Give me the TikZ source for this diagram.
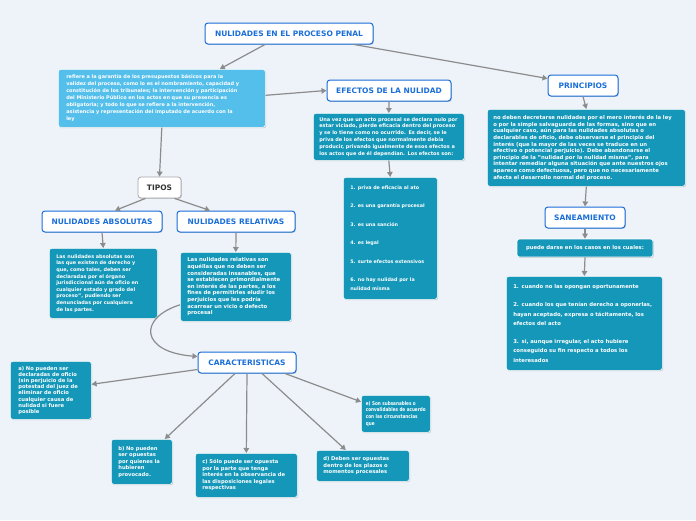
\documentclass[tikz,border=0pt]{standalone}
\usepackage{fontspec}
\usepackage{graphicx}
\setmainfont{DejaVu Sans}
\usetikzlibrary{arrows.meta,shadows}
\definecolor{bg}{HTML}{EEF2F9}
\definecolor{ttl}{HTML}{1A6ED8}
\definecolor{lb}{HTML}{55BFEB}
\definecolor{tl}{HTML}{1497B8}
\definecolor{ar}{HTML}{8C8C8C}
\tikzset{
  shd/.style={drop shadow={shadow xshift=0.8pt,shadow yshift=-0.9pt,opacity=0.3,fill=black!60}},
  ttlbox/.style={draw=ttl,line width=1pt,fill=white,rounded corners=3pt,shd,
    font=\fontsize{7.5}{8}\selectfont\bfseries,text=ttl,inner xsep=4pt,minimum height=21pt},
  tipbox/.style={ttlbox,draw=black!35,text=black!80,line width=0.8pt},
  tbox/.style={fill=tl,draw=white,line width=0.6pt,rounded corners=2.5pt,shd,text=white,
    font=\fontsize{4.9}{6.6}\selectfont\bfseries,align=left,anchor=north west,
    inner xsep=7pt,inner ysep=3pt},
  cbox/.style={tbox,font=\fontsize{5.2}{6.5}\selectfont\bfseries},
  lbox/.style={tbox,fill=lb,font=\fontsize{4.95}{7}\selectfont\bfseries},
  arr/.style={draw=ar,line width=1.2pt,-{Triangle[width=5.5pt,length=5pt]}},
}
\begin{document}
\begin{tikzpicture}[x=1pt,y=-1pt]
\fill[bg] (0,0) rectangle (696,520);
\useasboundingbox (0,0) rectangle (696,520);

% title nodes
\node[ttlbox,minimum width=168pt] (title) at (289,33.5) {NULIDADES EN EL PROCESO PENAL};
\node[ttlbox,minimum width=124pt] (efe) at (389,90.5) {EFECTOS DE LA NULIDAD};
\node[ttlbox,minimum width=70pt] (princ) at (583,85.5) {PRINCIPIOS};
\node[ttlbox,minimum width=80pt] (san) at (585,217.5) {SANEAMIENTO};
\node[tipbox,minimum width=43pt] (tipos) at (159.5,187.5) {TIPOS};
\node[ttlbox,minimum width=120pt] (abs) at (102,221.5) {NULIDADES ABSOLUTAS};
\node[ttlbox,minimum width=118pt] (rel) at (236,221.5) {NULIDADES RELATIVAS};
\node[ttlbox,minimum width=98pt] (car) at (247,362.5) {CARACTERISTICAS};

% text boxes
\node[lbox,inner xsep=8pt,text width=191pt,minimum height=58pt] (lbx) at (58,69)
{refiere a la garantía de los presupuestos básicos para la\\
validez del proceso, como lo es el nombramiento, capacidad y\\
constitución de los tribunales; la intervención y participación\\
del Ministerio Público en los actos en que su presencia es\\
obligatoria; y todo lo que se refiere a la intervención,\\
asistencia y representación del imputado de acuerdo con la\\
ley};

\node[tbox,font=\fontsize{5}{6.8}\selectfont\bfseries,text width=139pt,inner xsep=6pt,minimum height=47pt] (efet) at (313,113)
{Una vez que un acto procesal se declara nulo por\\
estar viciado, pierde eficacia dentro del proceso\\
y se lo tiene como no ocurrido. Es decir, se le\\
priva de los efectos que normalmente debía\\
producir, privando igualmente de esos efectos a\\
los actos que de él dependían. Los efectos son:};

\node[tbox,font=\fontsize{4.8}{9.2}\selectfont\bfseries,text width=80pt,minimum height=122pt] (efel) at (343,177)
{1. priva de eficacia al ato\\[9.2pt]
2. es una garantía procesal\\[9.2pt]
3. es una sanción\\[9.2pt]
4. es legal\\[9.2pt]
5. surte efectos extensivos\\[9.2pt]
6. no hay nulidad por la\\
nulidad misma};

\node[tbox,font=\fontsize{5.3}{6.6}\selectfont\bfseries,inner xsep=6pt,text width=186pt,minimum height=77pt] (prt) at (487,109)
{no deben decretarse nulidades por el mero interés de la ley\\
o por la simple salvaguarda de las formas, sino que en\\
cualquier caso, aún para las nulidades absolutas o\\
declarables de oficio, debe observarse el principio del\\
interés (que la mayor de las veces se traduce en un\\
efectivo o potencial perjuicio). Debe abandonarse el\\
principio de la "nulidad por la nulidad misma", para\\
intentar remediar alguna situación que ante nuestros ojos\\
aparece como defectuosa, pero que no necesariamente\\
afecta el desarrollo normal del proceso.};

\node[tbox,font=\fontsize{5.3}{6.6}\selectfont\bfseries,anchor=center,align=center,minimum width=136pt,minimum height=18pt] (pue) at (585,248)
{puede darse en los casos en los cuales:};

\node[tbox,font=\fontsize{5.3}{9.2}\selectfont\bfseries,text width=142pt,minimum height=94pt] (sanl) at (506,276)
{1. cuando no las opongan oportunamente\\[9.2pt]
2. cuando los que tenían derecho a oponerlas,\\
hayan aceptado, expresa o tácitamente, los\\
efectos del acto\\[9.2pt]
3. si, aunque irregular, el acto hubiere\\
conseguido su fin respecto a todos los\\
interesados};

\node[tbox,text width=94pt,minimum height=70pt] (abst) at (49,248)
{Las nulidades absolutas son\\
las que existen de derecho y\\
que, como tales, deben ser\\
declaradas por el órgano\\
jurisdiccional aún de oficio en\\
cualquier estado y grado del\\
proceso", pudiendo ser\\
denunciadas por cualquiera\\
de las partes.};

\node[tbox,font=\fontsize{5.3}{6.6}\selectfont\bfseries,text width=97pt,minimum height=69pt] (relt) at (180,252)
{Las nulidades relativas son\\
aquéllas que no deben ser\\
consideradas insanables, que\\
se establecen primordialmente\\
en interés de las partes, a los\\
fines de permitirles eludir los\\
perjuicios que les podría\\
acarrear un vicio o defecto\\
procesal};

\node[cbox,font=\fontsize{5.2}{6.2}\selectfont\bfseries,inner xsep=8pt,text width=65pt,minimum height=58pt] (ca) at (10,361)
{a) No pueden ser\\
declaradas de oficio\\
(sin perjuicio de la\\
potestad del juez de\\
eliminar de oficio\\
cualquier causa de\\
nulidad si fuere\\
posible};

\node[cbox,text width=47pt,minimum height=45pt] (cb) at (111,439)
{b) No pueden\\
ser opuestas\\
por quienes la\\
hubieren\\
provocado.};

\node[cbox,text width=88pt,minimum height=44pt] (cc) at (195,453)
{c) Sólo puede ser opuesta\\
por la parte que tenga\\
interés en la observancia de\\
las disposiciones legales\\
respectivas};

\node[cbox,text width=79pt,minimum height=31pt] (cd) at (316,450)
{d) Deben ser opuestas\\
dentro de los plazos o\\
momentos procesales};

\node[cbox,font=\fontsize{5.2}{6.7}\selectfont\bfseries,inner xsep=3pt,minimum width=69pt,minimum height=37pt] (ce) at (361,395)
{\scalebox{0.8}[1]{\begin{tabular}{@{}l@{}}e) Son subsanables o\\
convalidables de acuerdo\\
con las circunstancias\\
que\end{tabular}}};

% connectors
\draw[arr] ([xshift=-24pt]title.south) -- ([xshift=58pt]lbx.north);
\draw[arr] ([xshift=65pt]title.south) -- ([yshift=7pt]princ.west);
\draw[arr] ([yshift=3pt]lbx.east) -- (efe.west);
\draw[arr] (lbx.south) -- (tipos.north);
\draw[arr] ([xshift=-14pt]tipos.south) -- ([xshift=13pt]abs.north);
\draw[arr] ([xshift=15pt]tipos.south) -- ([xshift=-26pt]rel.north);
\draw[arr] (abs.south) -- (abst.north);
\draw[arr] (rel.south) -- (relt.north);
\draw[arr] (efe.south) -- (efet.north);
\draw[arr] (efet.south) -- (efel.north);
\draw[arr] (princ.south) -- (prt.north);
\draw[arr] (prt.south) -- (san.north);
\draw[arr] (san.south) -- (pue.north);
\draw[arr] (pue.south) -- (sanl.north);
\draw[arr] ([yshift=-18pt]relt.west) .. controls (138,318) and (140,352) .. ([yshift=6pt]car.west);
\draw[arr] ([yshift=-7pt]car.west) -- ([yshift=6pt]ca.east);
\draw[arr] ([xshift=-12pt]car.south) -- ([xshift=23pt]cb.north);
\draw[arr] (car.south) -- (cc.north);
\draw[arr] ([xshift=15pt]car.south) -- ([xshift=-17pt]cd.north);
\draw[arr] ([xshift=38pt]car.south) -- ([yshift=12pt]ce.west);
\end{tikzpicture}
\end{document}
